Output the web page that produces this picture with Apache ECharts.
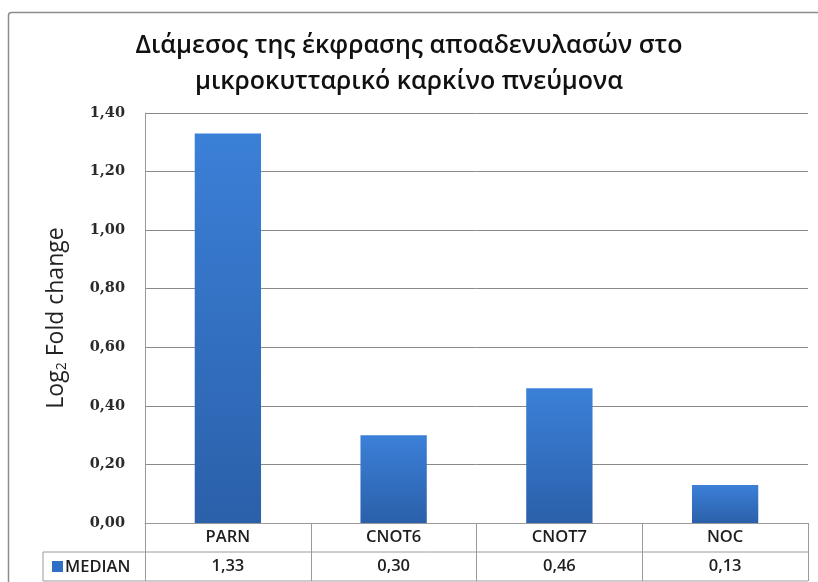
<!DOCTYPE html>
<html>
<head>
<meta charset="utf-8">
<script src="https://cdn.jsdelivr.net/npm/echarts@6/dist/echarts.min.js"></script>
<style>
  html, body { margin: 0; padding: 0; background: #ffffff; }
  #chart { width: 818px; height: 582px; }
</style>
</head>
<body>
<div id="chart"></div>
<script>
// Median deadenylase expression in small cell lung cancer
const titleLines = ['Διάμεσος της έκφρασης αποαδενυλασών στο', 'μικροκυτταρικό καρκίνο πνεύμονα'];
const categories = ['PARN', 'CNOT6', 'CNOT7', 'NOC'];
const medianValues = [1.33, 0.30, 0.46, 0.13];
const seriesName = 'MEDIAN';
const yTicks = { min: 0, max: 1.4, interval: 0.2 };

const fmt = v => v.toFixed(2).replace('.', ',');

const chart = echarts.init(document.getElementById('chart'), null, { renderer: 'canvas' });

const gridLeft = 145, gridTop = 113, gridRight = 10, gridBottom = 59;
const rowHeight = 29;
const lineColor = '#9a9a9a';
const textFont = '"Open Sans", "Noto Sans", sans-serif';
const tableText = { fontFamily: textFont, fontSize: 16.5, fontWeight: 600, color: '#1e1e1e', lineHeight: 18 };

chart.setOption({
  animation: false,
  backgroundColor: '#ffffff',
  title: {
    text: titleLines.join('\n'),
    left: 'center',
    top: 23,
    textStyle: { fontFamily: textFont, fontSize: 25, fontWeight: 600, color: '#111', lineHeight: 36 }
  },
  grid: { left: gridLeft, top: gridTop, right: gridRight, bottom: gridBottom, containLabel: false },
  xAxis: [
    {
      type: 'category',
      data: categories,
      axisLine: { show: true, lineStyle: { color: lineColor, width: 1 } },
      axisTick: { show: true, length: rowHeight * 2, lineStyle: { color: lineColor, width: 1 } },
      axisLabel: Object.assign({ margin: 5 }, tableText)
    },
    {
      type: 'category',
      data: medianValues.map(fmt),
      position: 'bottom',
      offset: rowHeight,
      axisLine: { show: false },
      axisTick: { show: false },
      axisLabel: Object.assign({ margin: 5 }, tableText)
    }
  ],
  yAxis: {
    type: 'value',
    min: yTicks.min,
    max: yTicks.max,
    interval: yTicks.interval,
    name: '{a|Log}{s|2}{a| Fold change}',
    nameLocation: 'middle',
    nameGap: 76,
    nameRotate: 90,
    nameTextStyle: {
      rich: {
        a: { fontFamily: textFont, fontSize: 23, color: '#222' },
        s: { fontFamily: textFont, fontSize: 14, color: '#222', padding: [11, 0, 0, 0] }
      }
    },
    axisLine: { show: true, lineStyle: { color: lineColor, width: 1 } },
    axisTick: { show: false },
    axisLabel: { margin: 20, formatter: v => fmt(v), fontFamily: '"DejaVu Serif", serif', fontWeight: 'bold', fontSize: 14.5, color: '#2a2a2a' },
    splitLine: { show: true, lineStyle: { color: '#8a8a8a', width: 1 } }
  },
  series: [{
    name: seriesName,
    type: 'bar',
    xAxisIndex: 0,
    data: medianValues,
    barWidth: '40%',
    itemStyle: {
      color: new echarts.graphic.LinearGradient(0, 0, 0, 1, [
        { offset: 0, color: '#3b80d8' },
        { offset: 1, color: '#2b60aa' }
      ])
    }
  }]
});

// Data table rows, legend cell and chart frame, placed from the grid's pixel coordinates
function drawTable() {
  const x0 = chart.convertToPixel({ xAxisIndex: 0 }, 0);
  const x1 = chart.convertToPixel({ xAxisIndex: 0 }, categories.length - 1);
  const half = (x1 - x0) / (categories.length - 1) / 2;
  const right = x1 + half;
  const baseY = chart.convertToPixel({ yAxisIndex: 0 }, 0);
  const row1 = baseY + rowHeight, row2 = baseY + rowHeight * 2;
  const tableLeft = 43;
  const ls = { stroke: lineColor, lineWidth: 1 };
  chart.setOption({
    graphic: [
      { type: 'rect', shape: { x: 8.5, y: 12.5, width: 840, height: 620, r: 3 }, style: { fill: null, stroke: '#8c8c8c', lineWidth: 1.5 }, silent: true, z: -1 },
      { type: 'line', shape: { x1: tableLeft, y1: row1, x2: right, y2: row1 }, style: ls, silent: true },
      { type: 'line', shape: { x1: tableLeft, y1: row2, x2: right, y2: row2 }, style: ls, silent: true },
      { type: 'line', shape: { x1: tableLeft, y1: row1, x2: tableLeft, y2: row2 }, style: ls, silent: true },
      { type: 'rect', shape: { x: 52, y: row1 + 9, width: 11, height: 11 }, style: { fill: '#3070c4' }, silent: true },
      { type: 'text', x: 65, y: row1 + rowHeight / 2 + 1, style: { text: seriesName, fontFamily: textFont, fontSize: 16.5, fontWeight: 600, fill: '#1e1e1e', verticalAlign: 'middle' }, silent: true }
    ]
  });
}
drawTable();
</script>
</body>
</html>
